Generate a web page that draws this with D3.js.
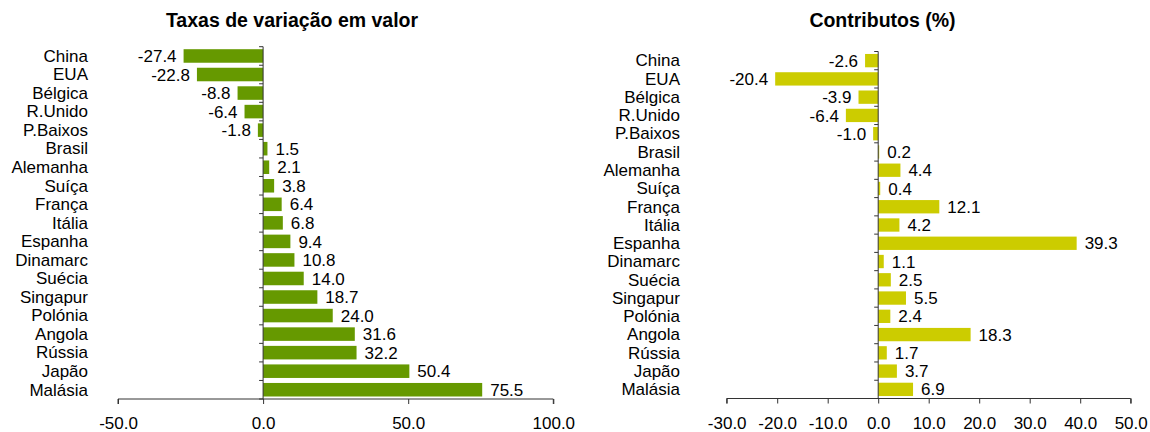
<!DOCTYPE html>
<html><head><meta charset="utf-8">
<script src="https://cdn.jsdelivr.net/npm/d3@7"></script>
<style>body{margin:0;background:#fff}svg{display:block}text{font-family:"Liberation Sans",Arial,sans-serif;fill:#000}</style>
</head><body>
<svg id="c" width="1150" height="432"></svg>
<script>
const categories = ["China","EUA","Bélgica","R.Unido","P.Baixos","Brasil","Alemanha","Suíça","França","Itália","Espanha","Dinamarc","Suécia","Singapur","Polónia","Angola","Rússia","Japão","Malásia"];
const variacao = [-27.4,-22.8,-8.8,-6.4,-1.8,1.5,2.1,3.8,6.4,6.8,9.4,10.8,14.0,18.7,24.0,31.6,32.2,50.4,75.5];
const contributos = [-2.6,-20.4,-3.9,-6.4,-1.0,0.2,4.4,0.4,12.1,4.2,39.3,1.1,2.5,5.5,2.4,18.3,1.7,3.7,6.9];
const ticksLeft = [-50,0,50,100];
const ticksRight = [-30,-20,-10,0,10,20,30,40,50];
const titleLeft = "Taxas de variação em valor";
const titleRight = "Contributos (%)";

const svg = d3.select("#c");
const fmt = d => d.toFixed(1);

function panel(o){
  const g = svg.append("g");
  const x = d3.scaleLinear().domain(o.domain).range(o.xr);
  const y = d3.scaleBand().domain(categories).range(o.yr).paddingInner(0.27).paddingOuter(0.135);
  const x0 = x(0);
  g.append("text").attr("x", o.tx).attr("y", 27).attr("text-anchor","middle")
    .style("font-weight","bold").style("font-size","19.5px").text(o.title);
  g.selectAll("rect.b").data(o.values).enter().append("rect")
    .attr("x", d => Math.min(x(d), x0)).attr("width", d => Math.abs(x(d)-x0))
    .attr("y", (d,i) => y(categories[i])).attr("height", y.bandwidth())
    .attr("fill", o.color);
  g.selectAll("text.v").data(o.values).enter().append("text")
    .attr("x", d => d < 0 ? x(d)-7 : x(d)+8)
    .attr("y", (d,i) => y(categories[i]) + y.bandwidth()/2)
    .attr("dy","0.36em").attr("text-anchor", d => d < 0 ? "end" : "start")
    .style("font-size","17px").text(fmt);
  g.selectAll("text.c").data(categories).enter().append("text")
    .attr("x", o.lx).attr("y", d => y(d) + y.bandwidth()/2)
    .attr("dy","0.34em").attr("text-anchor","end")
    .style("font-size","17px").text(d => d);
  const step = y.step();
  const bounds = d3.range(categories.length+1).map(i => o.yr[0] + i*step);
  g.append("line").attr("x1",x0).attr("x2",x0).attr("y1",o.yr[0]).attr("y2",o.yr[1])
    .attr("stroke","#333").attr("stroke-width",1);
  g.selectAll("line.yt").data(bounds).enter().append("line")
    .attr("x1",x0-4).attr("x2",x0).attr("y1",d=>d).attr("y2",d=>d)
    .attr("stroke","#333").attr("stroke-width",1);
  const xa = d3.axisBottom(x).tickValues(o.ticks).tickSize(5).tickPadding(13).tickFormat(fmt);
  const ax = g.append("g").attr("transform",`translate(0,${o.yr[1]})`).call(xa);
  ax.select(".domain").attr("stroke","#333").attr("d", `M${o.xr[0]},5V0H${o.xr[1]}V5`);
  ax.selectAll(".tick line").attr("stroke","#333");
  ax.selectAll(".tick text").style("font-size","17px").style("font-family","Liberation Sans, Arial, sans-serif").attr("fill","#000");
}

panel({domain:[-50,100], xr:[118,553.3], yr:[46.7,399], values:variacao, ticks:ticksLeft,
  color:"#669900", title:titleLeft, tx:292, lx:88});
panel({domain:[-30,50], xr:[726.7,1130.7], yr:[51.5,398.5], values:contributos, ticks:ticksRight,
  color:"#cccc00", title:titleRight, tx:882.5, lx:680});
</script>
</body></html>
